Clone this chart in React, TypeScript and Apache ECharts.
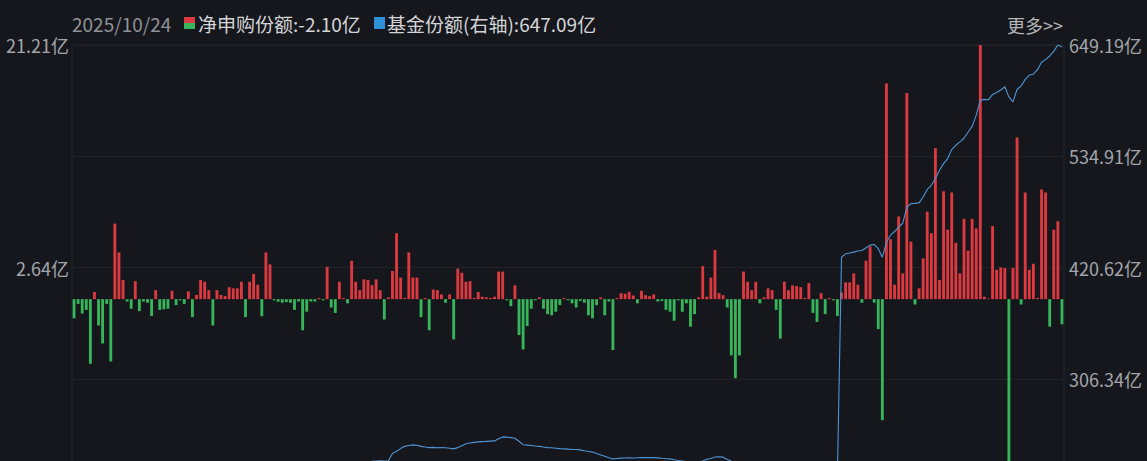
import React, { useEffect, useRef } from "react";
import * as echarts from "echarts";

// 净申购份额 (亿) — one bar per trading day, last = 2025/10/24
const netSubscription: number[] = [
  -1.6, -0.4, -1.2, -0.9, -5.4, 0.6, -2.2, -3.7, -0.4, -5.2,
  6.3, 3.9, 1.6, -0.2, -0.8, 1.5, -1.0, -0.2, -0.3, -1.4,
  0.75, -0.9, -0.85, -0.8, 0.7, -0.5, -0.1, -0.4, 0.65, -1.5,
  0.35, 1.6, 1.45, 0.75, -2.2, 0.75, 0.35, 0.25, 1.0, 0.9,
  0.9, 1.45, -1.5, 1.45, 2.1, 1.2, -1.42, 3.9, 2.9, -0.1,
  -0.22, -0.3, -0.25, -0.3, -0.9, -0.2, -2.6, -1.05, -0.2, -0.2,
  0.1, -0.1, 2.7, -0.7, -1.15, 1.45, 0.1, -0.35, 3.2, 1.45,
  0.75, 1.65, 1.6, 1.17, 1.65, 0.75, -1.7, 0.15, 2.35, 5.5,
  1.8, 0.1, 3.9, 1.8, 1.8, -1.5, 0.1, -2.6, 0.8, 0.75,
  0.4, -0.3, 0.4, -3.36, 2.55, 2.2, 1.45, 1.5, 0.1, 0.6,
  0.2, 0.15, 0.1, 0.2, 2.3, 2.3, -0.1, -0.6, 1.15, -3.0,
  -4.2, -2.25, -0.8, -0.1, 0.15, -0.8, -1.25, -1.35, -1.05, -0.5,
  0.1, -0.1, -0.35, -0.7, -0.15, -0.3, -1.35, -1.6, -0.5, 0.15,
  -1.35, -0.2, -4.25, 0.1, 0.5, 0.45, 0.6, 0.3, -0.35, 0.7,
  0.33, 0.25, 0.4, -0.2, -0.15, -0.9, -1.05, -1.8, -0.1, -1.05,
  -0.35, -2.3, -1.25, 0.15, 2.75, 0.2, 1.8, 4.1, 0.5, 0.33,
  -0.7, -4.7, -6.6, -4.7, 2.3, 1.45, 0.75, 1.45, -0.35, 0.15,
  0.9, 0.75, -0.9, -3.3, 1.45, 0.75, 1.15, 1.1, 1.0, 0.1,
  1.35, -1.15, -1.9, 0.5, -1.25, 0.1, -0.1, -1.4, 0.55, 1.4,
  1.4, 2.15, 1.2, -0.3, 3.2, 4.4, -0.3, -2.5, -10.1, 18.0,
  5.0, 1.2, 6.9, 2.15, 17.2, 4.8, -0.45, 0.9, 3.4, 7.3,
  5.5, 12.6, 1.6, 9.0, 5.8, 8.9, 4.7, 2.15, 6.7, 4.05,
  6.7, 5.9, 21.21, 0.2, 0.05, 6.1, 2.45, 2.65, 2.6, -15.93,
  2.6, 13.5, -0.45, 8.9, 2.45, 2.95, 0.1, 9.15, 8.9, -2.3,
  5.8, 6.5, -2.1,
];

// 基金份额 (亿, 右轴)
const fundShares: number[] = [
  205.3, 204.8, 203.9, 204.6, 202.7, 201.9, 200.8, 199.6, 200.2, 198.4,
  199.7, 201.5, 202.3, 201.8, 200.9, 201.6, 200.7, 199.8, 198.9, 197.6,
  198.2, 197.4, 196.5, 195.8, 196.3, 195.1, 194.6, 193.9, 194.7, 193.2,
  192.06, 193.5, 194.8, 195.6, 194.2, 195.3, 196.1, 196.7, 197.8, 198.6,
  199.3, 200.5, 199.4, 200.9, 202.4, 203.1, 202.2, 204.5, 206.1, 205.8,
  205.2, 204.7, 204.3, 203.6, 202.8, 202.5, 200.9, 200.1, 199.8, 199.6,
  199.8, 199.5, 201.9, 201.2, 200.3, 201.6, 201.7, 203.3, 206.5, 210.4,
  214.8, 218.2, 220.3, 221.6, 221.9, 222.1, 221.8, 222.0, 229.5, 231.8,
  234.6, 236.9, 237.8, 238.4, 238.1, 236.9, 236.2, 235.6, 235.8, 235.5,
  235.7, 235.4, 235.0, 234.3, 235.6, 237.4, 239.5, 240.3, 241.0, 241.5,
  241.8, 242.0, 242.3, 242.5, 244.6, 246.6, 246.4, 245.9, 245.2, 242.1,
  238.6, 238.2, 237.8, 237.3, 236.9, 236.2, 235.6, 235.4, 235.0, 234.6,
  234.3, 234.0, 233.7, 233.6, 233.3, 232.4, 231.6, 231.0, 229.5, 228.1,
  226.7, 225.2, 224.0, 224.4, 224.8, 225.0, 225.1, 225.0, 225.2, 225.3,
  225.4, 225.3, 225.3, 225.1, 224.6, 224.2, 224.0, 223.1, 222.4, 221.9,
  221.3, 220.8, 220.4, 220.2, 221.8, 223.6, 224.5, 226.0, 226.2, 225.8,
  223.4, 221.5, 219.6, 218.3, 217.5, 216.9, 217.2, 216.4, 215.8, 215.1,
  214.7, 214.2, 214.9, 215.3, 214.6, 213.8, 213.2, 212.7, 212.9, 213.4,
  212.6, 211.9, 211.3, 210.8, 211.2, 210.5, 209.8, 209.4, 431.2, 434.7,
  435.6, 436.4, 437.5, 438.1, 440.9, 443.6, 444.3, 439.9, 431.2, 446.5,
  453.8, 457.6, 462.2, 466.1, 482.5, 486.2, 486.5, 487.0, 493.0, 500.8,
  505.1, 512.0, 520.5, 527.3, 532.5, 541.8, 546.2, 549.7, 553.4, 559.5,
  565.6, 577.1, 592.6, 593.3, 593.0, 598.4, 600.5, 602.9, 606.3, 595.9,
  590.8, 603.5, 607.1, 613.9, 618.3, 619.2, 623.8, 631.5, 634.2, 637.9,
  642.6, 649.19, 647.09,
];

const lastDate = "2025/10/24";
// tick labels from bottom to top; the bottom one lies below the visible area
const leftTickLabels = ["", "2.64亿", "21.21亿"];
const leftMin = -15.93;
const leftMax = 21.21;
const leftStep = 18.57;
const rightTickLabels = ["", "306.34亿", "420.62亿", "534.91亿", "649.19亿"];
const rightMin = 192.06;
const rightMax = 649.19;
const rightStep = 114.2825;

// trading-day categories ending on lastDate (weekdays only)
function buildDates(n: number, end: string): string[] {
  const out: string[] = [];
  const d = new Date(end.replace(/\//g, "-") + "T00:00:00");
  while (out.length < n) {
    const wd = d.getDay();
    if (wd !== 0 && wd !== 6) {
      const s = `${d.getFullYear()}/${String(d.getMonth() + 1).padStart(2, "0")}/${String(d.getDate()).padStart(2, "0")}`;
      out.unshift(s);
    }
    d.setDate(d.getDate() - 1);
  }
  return out;
}
const categories = buildDates(netSubscription.length, lastDate);

const RED = "#dc3a40";
const GREEN = "#36b55a";
const BLUE = "#4f95d6";
const BG = "#15171c";
const FONT = '"Noto Sans CJK SC", "Noto Sans", sans-serif';

export default function App() {
  const ref = useRef<HTMLDivElement>(null);
  useEffect(() => {
    document.body.style.margin = "0";
    document.body.style.background = BG;
    if (!ref.current) return;
    const chart = echarts.init(ref.current, undefined, { renderer: "svg" });
    const lastNet = netSubscription[netSubscription.length - 1];
    const lastShare = fundShares[fundShares.length - 1];
    chart.setOption({
      animation: false,
      backgroundColor: BG,
      grid: {
        left: 72,
        right: 83,
        top: 45,
        height: 445,
        show: true,
        borderColor: "#23262c",
        borderWidth: 1,
      },
      xAxis: {
        type: "category",
        data: categories,
        axisLine: { show: false },
        axisTick: { show: false },
        axisLabel: { show: false },
        splitLine: { show: false },
      },
      yAxis: [
        {
          type: "value",
          min: leftMin,
          max: leftMax,
          interval: leftStep,
          position: "left",
          axisLine: { show: false },
          axisTick: { show: false },
          splitLine: { show: false },
          axisLabel: {
            color: "#a3a6ab",
            fontSize: 18,
            fontFamily: FONT,
            margin: 3,
            showMinLabel: false,
            showMaxLabel: true,
            formatter: (v: number) =>
              leftTickLabels[Math.round((v - leftMin) / leftStep)] ?? "",
          },
        },
        {
          type: "value",
          min: rightMin,
          max: rightMax,
          interval: rightStep,
          position: "right",
          axisLine: { show: false },
          axisTick: { show: false },
          splitLine: { show: true, lineStyle: { color: "#1f2227", width: 1 } },
          axisLabel: {
            color: "#a3a6ab",
            fontSize: 18,
            fontFamily: FONT,
            align: "right",
            margin: 78,
            showMinLabel: false,
            showMaxLabel: true,
            formatter: (v: number) =>
              rightTickLabels[Math.round((v - rightMin) / rightStep)] ?? "",
          },
        },
      ],
      series: [
        {
          type: "bar",
          name: "净申购份额",
          yAxisIndex: 0,
          data: netSubscription,
          barCategoryGap: "30%",
          itemStyle: {
            color: (p: any) => (p.value >= 0 ? RED : GREEN),
          },
        },
        {
          type: "line",
          name: "基金份额",
          yAxisIndex: 1,
          data: fundShares,
          showSymbol: false,
          symbol: "none",
          lineStyle: { color: BLUE, width: 1.1 },
          z: 5,
        },
      ],
      graphic: [
        {
          type: "text",
          x: 72,
          y: 23,
          style: {
            text: lastDate,
            fill: "#8f9298",
            fontSize: 19,
            fontFamily: FONT,
            align: "left",
            verticalAlign: "middle",
          },
        },
        { type: "rect", x: 184, y: 17, shape: { width: 11, height: 6 }, style: { fill: RED } },
        { type: "rect", x: 184, y: 23, shape: { width: 11, height: 6 }, style: { fill: GREEN } },
        {
          type: "text",
          x: 198,
          y: 23,
          style: {
            text: `净申购份额:${lastNet.toFixed(2)}亿`,
            fill: "#d4d5d8",
            fontSize: 19,
            fontFamily: FONT,
            align: "left",
            verticalAlign: "middle",
          },
        },
        { type: "rect", x: 374, y: 17, shape: { width: 11, height: 12 }, style: { fill: "#2f8fd8" } },
        {
          type: "text",
          x: 387,
          y: 23,
          style: {
            text: `基金份额(右轴):${lastShare.toFixed(2)}亿`,
            fill: "#d4d5d8",
            fontSize: 19,
            fontFamily: FONT,
            align: "left",
            verticalAlign: "middle",
          },
        },
        {
          type: "text",
          x: 1063,
          y: 25,
          style: {
            text: "更多>>",
            fill: "#b4b6ba",
            fontSize: 18,
            fontFamily: FONT,
            align: "right",
            verticalAlign: "middle",
          },
        },
      ],
    });
    return () => chart.dispose();
  }, []);
  return (
    <div
      ref={ref}
      style={{ position: "fixed", left: 0, top: 0, width: 1147, height: 520, background: BG }}
    />
  );
}
